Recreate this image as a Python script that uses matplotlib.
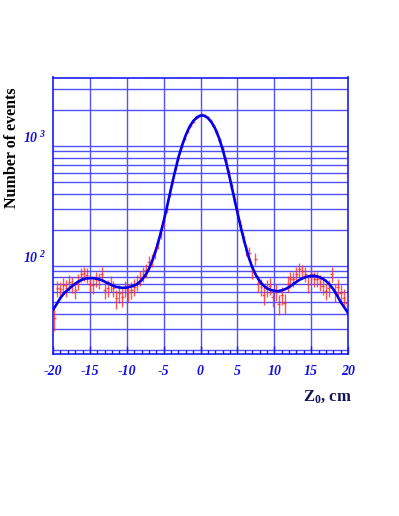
import numpy as np
import matplotlib
matplotlib.use("Agg")
import matplotlib.pyplot as plt
from matplotlib.ticker import FixedLocator, NullFormatter

# ---- data ----
bin_width = 0.4
bin_centers = [round(-19.8 + 0.4 * i, 1) for i in range(100)]
counts = [
    36.5, 65, 63.6, 69, 66, 73, 70, 63, 73.6, 84.8,
    86.4, 83.7, 71, 69, 77.5, 76, 86, 63, 65.6, 71,
    65, 53.5, 59, 55, 65, 60, 63, 67, 73, 79,
    86, 92, 108, 112, 130, 155, 185, 235, 300, 400,
    500, 640, 790, 980, 1150, 1320, 1470, 1600, 1720, 1790,
    1830, 1790, 1720, 1620, 1480, 1320, 1130, 950, 770, 600,
    470, 360, 285, 220, 175, 135, 128, 90, 115, 72,
    67, 57, 66, 68, 55, 61, 48, 57, 49, 71,
    77, 78, 86, 94, 90, 86, 70, 85, 78, 78,
    73, 68, 62, 66, 86, 60, 67, 59, 54, 49,
]

fit_x = [round(-20 + 0.5 * i, 1) for i in range(81)]
fit_y = [
    43, 48, 54, 59, 63, 67, 71, 74.5, 77, 78.5,
    79, 79, 78, 76.5, 74, 71.5, 69, 67, 66, 65.5,
    66, 67, 68.5, 71, 76, 83, 94, 112, 138, 178,
    235, 320, 440, 600, 800, 1010, 1230, 1440, 1610, 1730,
    1795, 1790, 1715, 1575, 1390, 1170, 940, 720, 530, 385,
    280, 205, 155, 120, 98, 84, 75, 69, 65, 63,
    62, 61.5, 62.5, 64, 66.5, 70, 73.5, 77, 79.5, 81.5,
    82.5, 82.5, 81, 78.5, 75, 70, 64, 57, 50, 45,
    40.5,
]

x_ticks = [-20, -15, -10, -5, 0, 5, 10, 15, 20]
x_tick_labels = ["-20", "-15", "-10", "-5", "0", "5", "10", "15", "20"]

# ---- figure ----
plt.rcParams['mathtext.fontset'] = 'custom'
plt.rcParams['mathtext.rm'] = 'Liberation Serif:bold'
plt.rcParams['mathtext.it'] = 'Liberation Serif:bold:italic'
plt.rcParams['mathtext.bf'] = 'Liberation Serif:bold:italic'

W, H = 399, 516
fig = plt.figure(figsize=(W / 100, H / 100), dpi=100)
ax = fig.add_axes([53 / W, 1 - 354.3 / H, 295 / W, 276.8 / H])

blue = '#1a1aff'
grid_c = '#5050ff'

ax.set_yscale('log')
ax.set_xlim(-20, 20)
ax.set_ylim(18.3, 3725)

# grid
for xv in x_ticks[1:-1]:
    ax.axvline(xv, color=grid_c, lw=1.0, zorder=1)
for dec in [10, 100, 1000]:
    for m in range(1, 10):
        v = dec * m
        if 18.3 < v < 3725:
            ax.axhline(v, color=grid_c, lw=1.0, zorder=1)

cnt = np.array(counts, dtype=float)
ax.errorbar(bin_centers, cnt, yerr=1.3 * np.sqrt(cnt), xerr=bin_width / 2,
            fmt='none', ecolor='#ff2a2a', elinewidth=1.0, capsize=0,
            alpha=0.8, zorder=3)
ax.plot(fit_x, fit_y, color='#0000ee', lw=1.9, zorder=4)

for s in ax.spines.values():
    s.set_color(blue)
    s.set_linewidth(1.2)

ax.set_xticks(x_ticks)
ax.set_xticklabels(x_tick_labels, fontfamily='Liberation Serif',
                   fontweight='bold', fontstyle='italic', fontsize=10,
                   color='#1010e0')
ax.xaxis.set_minor_locator(FixedLocator(np.arange(-20, 21, 1)))
ax.tick_params(axis='x', which='major', direction='in', length=6,
               color=blue, width=1, pad=8, top=False)
ax.tick_params(axis='x', which='minor', direction='in', length=3,
               color=blue, width=1, top=False)

ax.yaxis.set_major_locator(FixedLocator([100, 1000]))
ax.yaxis.set_minor_locator(FixedLocator([]))
ax.yaxis.set_minor_formatter(NullFormatter())
ax.set_yticklabels([r'$\mathbf{10^{\ 2}}$', r'$\mathbf{10^{\ 3}}$'],
                   fontsize=10, color='#1010e0')
ax.tick_params(axis='y', which='major', length=0, pad=5)
for lab in ax.get_yticklabels():
    lab.set_verticalalignment('bottom')

fig.text(12 / W, 1 - 148 / H, 'Number of events', rotation=90,
         fontfamily='Liberation Serif', fontweight='bold', fontsize=11.5,
         color='black', ha='center', va='center')
fig.text(352 / W, 1 - 397 / H, r'$\mathregular{Z_0}$, cm',
         fontfamily='Liberation Serif', fontweight='bold', fontsize=12,
         color='#14145a', ha='right', va='center')

fig.savefig('out.png', dpi=100)
